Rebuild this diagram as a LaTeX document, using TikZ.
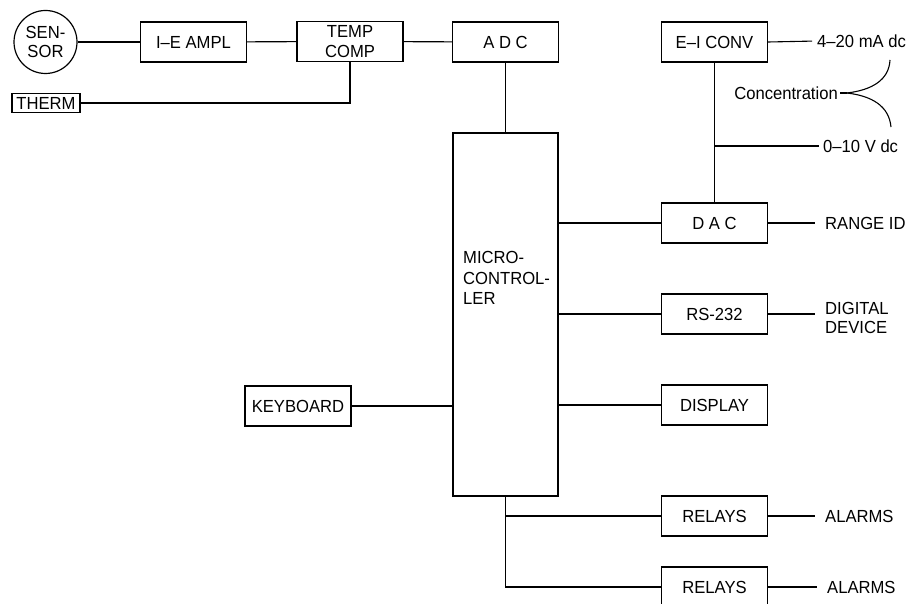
\documentclass[tikz,border=0pt]{standalone}
\usepackage{fontspec}
\setmainfont[FakeStretch=0.95]{Liberation Sans}
\newcommand\dgfont{\fontsize{17.5}{19.5}\selectfont}
\begin{document}
\begin{tikzpicture}[x=1pt,y=-1pt,
  every node/.style={font=\dgfont, inner sep=0pt},
  blk/.style={draw, line width=1.2pt, minimum width=106pt, minimum height=40pt, align=center},
  lbl/.style={anchor=west, align=left},
  wire/.style={line width=1.1pt},
  tolabel/.style={wire, shorten >=10pt}]
\useasboundingbox (0,0) rectangle (915,604);
% top row
\node[draw, circle, line width=1.2pt, minimum size=63pt, align=center] (sensor) at (45.5,42) {SEN-\\SOR};
\node[blk] (ie) at (193.5,42) {I–E AMPL};
\node[blk] (tc) at (350,41.5) {TEMP\\COMP};
\node[blk] (adc) at (505.5,42) {A D C};
\node[draw, line width=1.2pt, minimum width=68pt, minimum height=19pt] (therm) at (46,103) {THERM};
\node[blk] (ei) at (714.5,42) {E–I CONV};
% microcontroller
\node[draw, line width=1.2pt, minimum width=105pt, minimum height=363pt] (mc) at (505.5,314.5) {};
\node[lbl, align=left, font=\fontsize{17.5}{20.5}\selectfont] (mctxt) at (463,278) {MICRO-\\CONTROL-\\LER};
% right column
\node[blk] (dac) at (714.5,223) {D A C};
\node[blk] (rs) at (714.5,314) {RS-232};
\node[blk] (disp) at (714.5,405) {DISPLAY};
\node[blk] (rel1) at (714.5,516) {RELAYS};
\node[blk] (rel2) at (714.5,587) {RELAYS};
\node[blk] (kb) at (298,406) {KEYBOARD};
% output labels
\node[lbl] (i420) at (817,41) {4–20 mA dc};
\node[lbl] (v010) at (823,146) {0–10 V dc};
\node[anchor=east] (conc) at (838,93) {Concentration};
\node[lbl] (rid) at (825,223) {RANGE ID};
\node[lbl] (dd) at (825,318) {DIGITAL\\DEVICE};
\node[lbl] (al1) at (825,516) {ALARMS};
\node[lbl] (al2) at (827,587) {ALARMS};
% connectors, top row
\draw[wire] (sensor) -- (ie);
\draw[wire] (ie) -- (tc);
\draw[wire] (tc) -- (adc);
\draw[wire] (therm) -- (tc.south |- therm) -- (tc.south);
\draw[wire] (adc.south) -- (adc.south |- mc.north);
% E-I conv and DAC
\coordinate (vtap) at (ei.south |- v010);
\draw[wire] (ei.south) -- (dac.north);
\draw[wire, shorten >=4pt] (vtap) -- (v010.west);
\draw[wire, shorten >=5pt] (ei.east) -- (i420.west);
% concentration brace
\coordinate (apex) at (847,93);
\coordinate (ctop) at (890,60);
\coordinate (cbot) at (891,127);
\draw[wire] (conc.east) ++(2,0) -- (apex);
\draw[wire] (apex) .. controls (872,90) and (889,80) .. (ctop);
\draw[wire] (apex) .. controls (872,96) and (889,106) .. (cbot);
% microcontroller links
\draw[wire] (mc.east |- dac) -- (dac.west);
\draw[wire] (mc.east |- rs) -- (rs.west);
\draw[wire] (mc.east |- disp) -- (disp.west);
\draw[wire] (kb.east) -- (kb.east -| mc.west);
\draw[wire] (mc.south) -- (mc.south |- rel2) -- (rel2.west);
\draw[wire] (mc.south |- rel1) -- (rel1.west);
% right outputs
\draw[tolabel] (dac.east) -- (rid.west);
\draw[tolabel] (rs.east) -- (rs.east -| dd.west);
\draw[tolabel] (rel1.east) -- (al1.west);
\draw[tolabel] (rel2.east) -- (al2.west);
\end{tikzpicture}
\end{document}
